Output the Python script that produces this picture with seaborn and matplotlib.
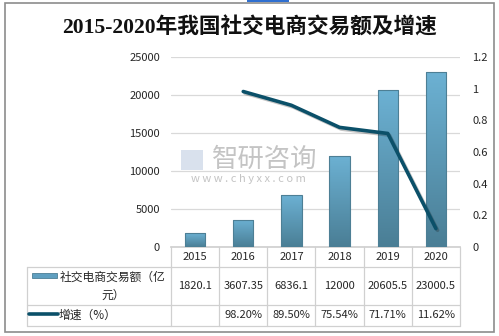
import numpy as np
import pandas as pd
import matplotlib
matplotlib.use("Agg")
import matplotlib.pyplot as plt
import matplotlib.patheffects as pe
from matplotlib.colors import LinearSegmentedColormap
from matplotlib.patches import Rectangle
from matplotlib.lines import Line2D
import seaborn as sns

# ---- data ----
years = ["2015", "2016", "2017", "2018", "2019", "2020"]
volume = [1820.1, 3607.35, 6836.1, 12000, 20605.5, 23000.5]
growth = [np.nan, 0.982, 0.895, 0.7554, 0.7171, 0.1162]
volume_labels = ["1820.1", "3607.35", "6836.1", "12000", "20605.5", "23000.5"]
growth_labels = ["", "98.20%", "89.50%", "75.54%", "71.71%", "11.62%"]
title = "2015-2020年我国社交电商交易额及增速"
bar_name = "社交电商交易额（亿\n元）"
line_name = "增速（%）"
left_ticks = [0, 5000, 10000, 15000, 20000, 25000]
right_ticks = [0, 0.2, 0.4, 0.6, 0.8, 1, 1.2]
right_tick_labels = ["0", "0.2", "0.4", "0.6", "0.8", "1", "1.2"]

sns.set_theme(style="white")
plt.rcParams["font.family"] = ["Noto Sans CJK SC", "DejaVu Sans"]

W, H = 499, 336
fig = plt.figure(figsize=(W / 100, H / 100), dpi=100)
fig.patch.set_facecolor("white")

def fx(x):
    return x / W

def fy(y):
    return 1 - y / H

# outer border and top accent
fig.add_artist(Rectangle((fx(5), fy(332)), fx(489), 329 / H, transform=fig.transFigure,
                         fill=False, edgecolor="#8c8c8c", linewidth=1.2))
fig.add_artist(Rectangle((fx(247), fy(2)), fx(42), 2 / H, transform=fig.transFigure,
                         facecolor="#2f6fd0", edgecolor="none"))

ax = fig.add_axes([fx(171), fy(247), fx(289), 190 / H])
df = pd.DataFrame({"year": years, "volume": volume, "growth": growth})

bar_top = "#6cb1d3"
bar_bot = "#4a7e95"
sns.barplot(data=df, x="year", y="volume", ax=ax, color=bar_top, width=0.42,
            edgecolor="#4d7f95", linewidth=0.8, zorder=3)

cmap = LinearSegmentedColormap.from_list("g", [bar_bot, bar_top])
grad = np.linspace(1, 0, 100).reshape(-1, 1)
for p in list(ax.patches):
    x0, y0, w, h = p.get_x(), p.get_y(), p.get_width(), p.get_height()
    im = ax.imshow(grad[::-1], extent=[x0, x0 + w, y0, y0 + h], aspect="auto",
                   cmap=cmap, origin="lower", zorder=3.5, vmin=0, vmax=1)
    im.set_clip_path(p)
    p.set_facecolor("none")
    p.set_zorder(4)

ax.set_xlim(-0.5, len(years) - 0.5)
ax.set_ylim(0, 25000)
ax.set_yticks(left_ticks)
ax.set_yticklabels([str(t) for t in left_ticks])
ax.set_xticks([])
ax.set_xlabel("")
ax.set_ylabel("")
ax.yaxis.grid(True, color="#d9d9d9", linewidth=0.9)
ax.set_axisbelow(True)
for s in ["top", "right", "left"]:
    ax.spines[s].set_visible(False)
ax.spines["bottom"].set_color("#d0d0d0")
ax.tick_params(axis="y", length=0, pad=8, labelsize=8, labelcolor="#262626")
ax.set_facecolor("none")

ax2 = ax.twinx()
df["pos"] = np.arange(len(years))
line_color = "#0b5069"
sns.lineplot(data=df, x="pos", y="growth", ax=ax2, color=line_color, linewidth=2.6,
             zorder=6, solid_capstyle="round",
             path_effects=[pe.SimpleLineShadow(offset=(1.2, -1.2), alpha=0.25), pe.Normal()])
ax2.set_ylim(0, 1.2)
ax2.set_xlim(-0.5, len(years) - 0.5)
ax2.set_yticks(right_ticks)
ax2.set_yticklabels(right_tick_labels)
ax2.set_ylabel("")
ax2.set_xlabel("")
ax2.grid(False)
for s in ["top", "right", "left", "bottom"]:
    ax2.spines[s].set_visible(False)
ax2.tick_params(axis="y", length=0, pad=9, labelsize=8, labelcolor="#262626")
ax2.set_xticks([])

# watermark
fig.text(fx(265), fy(159), "智研咨询", fontsize=19, color="#b0b0b0", ha="center",
         va="center", alpha=0.75, zorder=1)
fig.text(fx(248), fy(179), "w w w . c h y x x . c o m", fontsize=8, color="#b0b0b0",
         ha="center", va="center", alpha=0.75)
fig.add_artist(Rectangle((fx(181), fy(170)), fx(22), 20 / H, transform=fig.transFigure,
                         facecolor="#c9d5e6", edgecolor="none", alpha=0.7))

# ---- data table below the axis ----
to_fig = fig.transFigure.inverted()
def col_edge(i):
    xd = ax.transData.transform((i - 0.5, 0))
    return to_fig.transform(xd)[0]

edges = [col_edge(i) for i in range(len(years) + 1)]
centers = [(edges[i] + edges[i + 1]) / 2 for i in range(len(years))]
grid_c = "#d0d0d0"
y_axis = fy(247)
y_r1 = fy(267)
y_r2 = fy(305)
y_r3 = fy(326)
x_left = fx(27)

for yy in [y_r1, y_r2, y_r3]:
    fig.add_artist(Line2D([x_left, edges[-1]], [yy, yy], color=grid_c, lw=0.9,
                          transform=fig.transFigure))
for e in edges:
    fig.add_artist(Line2D([e, e], [y_axis, y_r3], color=grid_c, lw=0.9,
                          transform=fig.transFigure))
fig.add_artist(Line2D([x_left, x_left], [y_r1, y_r3], color=grid_c, lw=0.9,
                      transform=fig.transFigure))

for i, yr in enumerate(years):
    fig.text(centers[i], (y_axis + y_r1) / 2, yr, ha="center", va="center",
             fontsize=8, color="#262626")
    fig.text(centers[i], (y_r1 + y_r2) / 2, volume_labels[i], ha="center", va="center",
             fontsize=8, color="#262626")
    fig.text(centers[i], (y_r2 + y_r3) / 2, growth_labels[i], ha="center", va="center",
             fontsize=8, color="#262626")

# legend swatches in the table
fig.add_artist(Rectangle((fx(32), fy(277.5)), fx(25), 4.5 / H, transform=fig.transFigure,
                         facecolor="#5f9fc0", edgecolor="#4d7f95", lw=0.6))
fig.text(fx(113), (y_r1 + y_r2) / 2, bar_name, ha="center", va="center", fontsize=8.5,
         color="#262626", linespacing=1.5)
fig.add_artist(Line2D([fx(29), fx(58)], [fy(314), fy(314)], color=line_color, lw=2.6,
                      solid_capstyle="round", transform=fig.transFigure))
fig.text(fx(59), (y_r2 + y_r3) / 2, line_name, ha="left", va="center", fontsize=8.5,
         color="#262626")

# title
fig.text(0.5, fy(28), title, ha="center", va="center", fontsize=15.6,
         family=["Liberation Serif", "Noto Sans CJK SC"], weight="bold", color="#111111")

fig.savefig("out.png", dpi=100, facecolor="white")
